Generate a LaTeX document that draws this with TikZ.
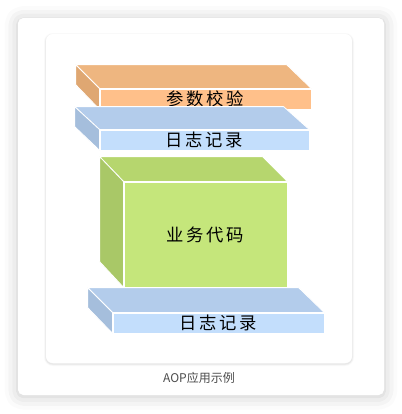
\documentclass[tikz,border=0pt]{standalone}
\usepackage{fontspec}
\usetikzlibrary{shadows.blur}
\newfontfamily\cjk[LetterSpace=15]{Noto Sans CJK SC}
\newfontfamily\cjkcap{Noto Sans CJK SC}
\definecolor{orangefront}{HTML}{FFC08A}
\definecolor{orangetop}{HTML}{EEB680}
\definecolor{orangeside}{HTML}{DFA772}
\definecolor{bluefront}{HTML}{C3DEFC}
\definecolor{bluetop}{HTML}{B3CCEB}
\definecolor{blueside}{HTML}{A5BEDC}
\definecolor{greenfront}{HTML}{C5E67B}
\definecolor{greentop}{HTML}{B6D66E}
\definecolor{greenside}{HTML}{A9C867}
\tikzset{
  face/.style = {draw=white, line width=0.6pt, line join=round},
  front/.style = {face, rectangle, inner sep=0pt, font=\cjk\fontsize{13}{15}\selectfont}
}

\begin{document}
\begin{tikzpicture}[x=0.75pt, y=-0.75pt]
      \useasboundingbox (0,0) rectangle (402,414);
      % card and panel
      \fill[white, rounded corners=4pt, blur shadow={shadow xshift=0pt, shadow yshift=-1pt, shadow blur radius=10pt, shadow opacity=22}] (18,18) rectangle (384,395);
      \foreach \w/\o in {4/0.015, 3/0.02, 2/0.025, 1/0.03}
        \draw[black, opacity=\o, line width=\w*0.75pt, rounded corners=5pt] (46,35) rectangle (352,364);
      \fill[white, rounded corners=5pt] (46,34) rectangle (352,363);

      % parameter check
      \node[front, fill=orangefront, minimum width=211*0.75pt, minimum height=20*0.75pt] (check) at (205.5,99) {参数校验};
      \filldraw[face, fill=orangetop] (check.north west) -- ++(-24,-24) -- ++(211,0) -- (check.north east) -- cycle;
      \filldraw[face, fill=orangeside] (check.north west) -- ++(-24,-24) -- ++(0,20) -- (check.south west) -- cycle;

      % log before
      \node[front, fill=bluefront, minimum width=209*0.75pt, minimum height=20*0.75pt] (logtop) at (204.5,140) {日志记录};
      \filldraw[face, fill=bluetop] (logtop.north west) -- ++(-25,-23) -- ++(209,0) -- (logtop.north east) -- cycle;
      \filldraw[face, fill=blueside] (logtop.north west) -- ++(-25,-23) -- ++(0,20) -- (logtop.south west) -- cycle;

      % business code
      \node[front, fill=greenfront, minimum width=163*0.75pt, minimum height=105*0.75pt] (business) at (205.5,234.5) {业务代码};
      \filldraw[face, fill=greentop] (business.north west) -- ++(-24,-25) -- ++(163,0) -- (business.north east) -- cycle;
      \filldraw[face, fill=greenside] (business.north west) -- ++(-24,-25) -- ++(0,105) -- (business.south west) -- cycle;

      % log after
      \node[front, fill=bluefront, minimum width=211*0.75pt, minimum height=20*0.75pt] (logbottom) at (218.5,323) {日志记录};
      \filldraw[face, fill=bluetop] (logbottom.north west) -- ++(-25,-25) -- ++(211,0) -- (logbottom.north east) -- cycle;
      \filldraw[face, fill=blueside] (logbottom.north west) -- ++(-25,-25) -- ++(0,20) -- (logbottom.south west) -- cycle;

      \node[font=\cjkcap\fontsize{9}{11}\selectfont, text=black!70] (caption) at (199,378) {AOP应用示例};
    \end{tikzpicture}
\end{document}
